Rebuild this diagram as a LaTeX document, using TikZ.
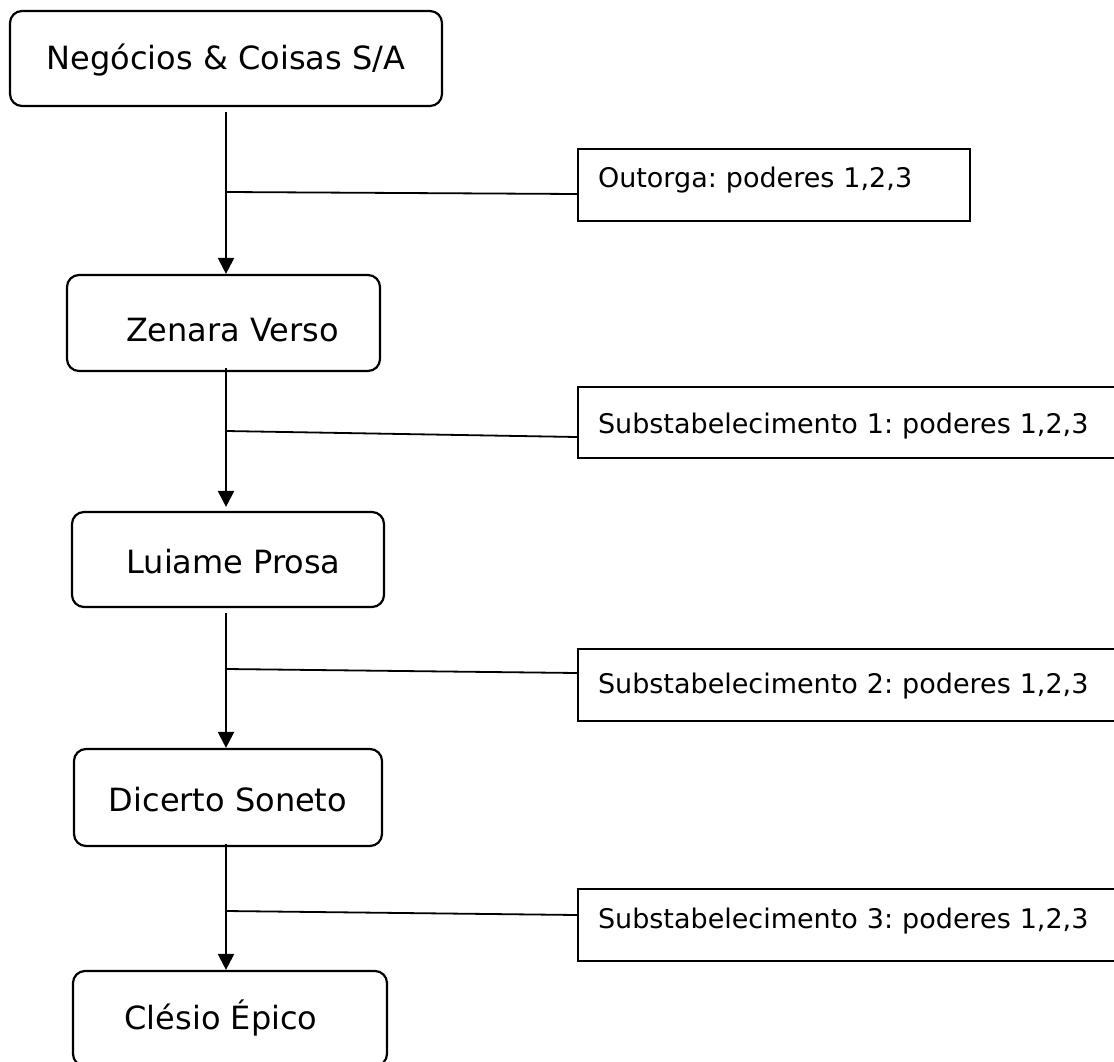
\documentclass[tikz,border=0pt]{standalone}
\usepackage{fontspec}
\setmainfont{DejaVu Sans}
\usetikzlibrary{arrows.meta,calc}
\frenchspacing
\begin{document}
\begin{tikzpicture}[x=1pt,y=1pt,
  rbox/.style={draw, line width=2.2pt, rounded corners=12pt, inner sep=0pt,
    font=\fontsize{32pt}{38pt}\selectfont},
  sbox/.style={draw, line width=2.2pt, inner xsep=20pt, inner ysep=0pt, align=left,
    font=\fontsize{27pt}{32pt}\selectfont},
  conn/.style={line width=2.2pt, -{Triangle[width=16pt,length=16pt]}},
  branch/.style={line width=1.8pt}]
\useasboundingbox (0,0) rectangle (1114,-1062);
\clip (0,0) rectangle (1114,-1062);
\coordinate (spine) at (226,0);

% main chain
\node[rbox, minimum width=432pt, minimum height=95pt, text height=23pt, text depth=0pt]
  (A) at (226,-58.5) {Negócios \& Coisas S/A};
\node[rbox, minimum width=313pt, minimum height=96pt, text height=36pt, text depth=0pt]
  (B) at (223.5,-323) {\hspace*{18pt}Zenara Verso};
\node[rbox, minimum width=312pt, minimum height=95pt, text height=27pt, text depth=0pt]
  (C) at (228,-559.5) {\hspace*{11pt}Luiame Prosa};
\node[rbox, minimum width=308pt, minimum height=97pt, text height=27pt, text depth=0pt]
  (D) at (228,-797.5) {Dicerto Soneto};
\node[rbox, minimum width=314pt, minimum height=95pt, text height=21pt, text depth=0pt]
  (E) at (230,-1018.5) {Clésio Épico\hspace*{18pt}};

% side boxes
\node[sbox, text width=352pt, minimum height=72pt, text height=19pt, text depth=15pt]
  (S0) at (774,-185) {Outorga: poderes 1,2,3};
\node[sbox, text width=542pt, minimum height=71pt, text height=21pt, text depth=0pt]
  (S1) at (869,-422.5) {Substabelecimento 1: poderes 1,2,3};
\node[sbox, text width=542pt, minimum height=72pt, text height=19pt, text depth=3pt]
  (S2) at (869,-685) {Substabelecimento 2: poderes 1,2,3};
\node[sbox, text width=542pt, minimum height=72pt, text height=19pt, text depth=13pt]
  (S3) at (869,-925) {Substabelecimento 3: poderes 1,2,3};

% connectors
\draw[conn] ($(A.south -| spine)+(0,-5)$) -- (B.north -| spine);
\draw[conn] ($(B.south -| spine)+(0,4)$) -- ($(C.north -| spine)+(0,4)$);
\draw[conn] ($(C.south -| spine)+(0,-5)$) -- (D.north -| spine);
\draw[conn] ($(D.south -| spine)+(0,3)$) -- (E.north -| spine);

% branches
\coordinate (j0) at (226,-192);
\coordinate (j1) at (226,-431);
\coordinate (j2) at (226,-669);
\coordinate (j3) at (226,-911);
\draw[branch] (j0) -- ($(S0.west)+(0,-9)$);
\draw[branch] (j1) -- ($(S1.west)+(0,-14.5)$);
\draw[branch] (j2) -- ($(S2.west)+(0,12)$);
\draw[branch] (j3) -- ($(S3.west)+(0,10)$);
\end{tikzpicture}
\end{document}
